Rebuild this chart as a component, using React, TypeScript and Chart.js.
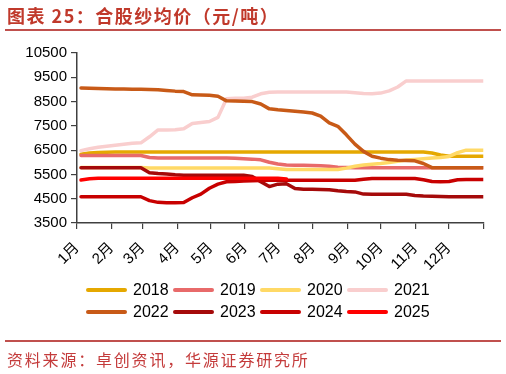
import React, { useEffect, useRef } from 'react';
import { Chart, registerables } from 'chart.js';

Chart.register(...registerables);

// ---------- data ----------
const years = ['2018', '2019', '2020', '2021', '2022', '2023', '2024', '2025'];
const seriesColors = ['#E5A800', '#E86A6A', '#FFD966', '#F9CECE', '#C85A17', '#A50A0A', '#C80000', '#FF0000'];
const monthLabels = ['1月', '2月', '3月', '4月', '5月', '6月', '7月', '8月', '9月', '10月', '11月', '12月'];
const monthStartDays = [0, 31, 59, 90, 120, 151, 181, 212, 243, 273, 304, 334, 365];
const yMin = 3500;
const yMax = 10500;
const yStep = 1000;
// weekly observations: day-of-year of first point and spacing
const firstDay = 3.6;
const stepDays = 7.69;

const s2018 = [6330, 6380, 6400, 6410,
  6420, 6420, 6420, 6420, 6420, 6420, 6420, 6420, 6420, 6420, 6420, 6420, 6420, 6420, 6420, 6420,
  6420, 6420, 6420, 6420, 6420, 6420, 6420, 6420, 6420, 6420, 6420, 6420, 6420, 6420, 6420, 6420,
  6420, 6420, 6420, 6420, 6420,
  6380, 6300, 6250, 6250, 6250, 6250, 6250];
const s2019 = [6280, 6280, 6280, 6280, 6280, 6280, 6280, 6280,
  6200, 6180, 6180, 6180, 6180, 6180, 6180, 6180, 6180, 6180,
  6170, 6150, 6130, 6100, 6000, 5930, 5890, 5880, 5880, 5870, 5860, 5840, 5800, 5790,
  5780, 5780, 5780, 5780, 5780, 5780, 5780, 5780, 5780, 5780, 5780, 5780, 5780, 5780, 5780, 5780];
const s2020 = [5790, 5790, 5790, 5790, 5790, 5790, 5790, 5790,
  5760, 5760, 5760, 5760, 5760, 5760, 5760, 5760, 5760, 5760, 5760, 5760, 5760, 5760, 5760,
  5730, 5700, 5700, 5700, 5700, 5700, 5700, 5700,
  5760, 5840, 5890, 5920, 5950, 5990, 6040, 6090, 6120, 6150, 6180, 6200, 6240, 6400, 6500, 6500, 6500];
const s2021 = [6480, 6560, 6620, 6660, 6700, 6740, 6780, 6800, 7050, 7330, 7330, 7340, 7380, 7600, 7640,
  7680, 7850, 8620, 8640, 8640, 8680, 8820, 8880,
  8890, 8890, 8890, 8890, 8890, 8890, 8890, 8890, 8890,
  8860, 8830, 8820, 8850, 8940, 9100, 9350,
  9350, 9350, 9350, 9350, 9350, 9350, 9350, 9350, 9350];
const s2022 = [9060, 9050, 9040, 9030, 9020, 9020, 9010, 9010, 9000, 8990, 8960, 8930, 8910, 8780, 8770,
  8760, 8720, 8530, 8520, 8510, 8500, 8400, 8200, 8160, 8130, 8100, 8070, 8030, 7900, 7620, 7480,
  7130, 6750, 6450, 6250, 6170, 6110, 6080, 6070, 6060, 5950, 5780,
  5780, 5780, 5780, 5780, 5780, 5780];
const s2023 = [5780, 5780, 5780, 5780, 5780, 5780, 5780, 5780,
  5570, 5540, 5520, 5490,
  5470, 5470, 5470, 5470, 5470, 5470, 5470, 5470,
  5420, 5200, 5000, 5100, 5120, 4920, 4890, 4890, 4880, 4870, 4830, 4800, 4780, 4690,
  4680, 4680, 4680, 4680, 4680,
  4630, 4610, 4600, 4590,
  4580, 4580, 4580, 4580, 4580];
const s2024 = [4580, 4580, 4580, 4580, 4580, 4580, 4580, 4580,
  4420, 4350, 4330, 4330, 4340, 4540, 4690, 4930, 5100, 5200, 5210, 5230, 5240, 5250,
  5260, 5260, 5260, 5260, 5260, 5260, 5260, 5260, 5260, 5260, 5260,
  5300,
  5330, 5330, 5330, 5330, 5330, 5330,
  5280, 5210, 5200, 5210, 5280,
  5290, 5290, 5290];
const s2025 = [5270, 5320, 5340, 5340, 5340, 5340, 5340, 5340, 5340, 5340, 5340, 5340, 5340, 5340,
  5340, 5340, 5340, 5340, 5340, 5340, 5340, 5340, 5340, 5340, 5310];

const allSeries = [s2018, s2019, s2020, s2021, s2022, s2023, s2024, s2025];

const tickFont = '"Liberation Sans", Arial, "Noto Sans CJK SC", sans-serif';
const axisColor = '#404040';

const legendPlugin = {
  id: 'rowLegend',
  afterDraw(chart: any) {
    const ctx = chart.ctx as CanvasRenderingContext2D;
    const colX = [86, 173, 260, 347];
    const rowY = [290, 312];
    ctx.save();
    ctx.font = '16px ' + tickFont;
    ctx.textBaseline = 'middle';
    ctx.textAlign = 'left';
    chart.data.datasets.forEach((ds: any, i: number) => {
      const x = colX[i % 4];
      const y = rowY[Math.floor(i / 4)];
      ctx.strokeStyle = ds.borderColor;
      ctx.lineWidth = 4;
      ctx.lineCap = 'round';
      ctx.beginPath();
      ctx.moveTo(x + 2, y);
      ctx.lineTo(x + 39, y);
      ctx.stroke();
      ctx.fillStyle = '#000';
      ctx.fillText(ds.label, x + 47, y + 1);
    });
    ctx.restore();
  },
};

export default function App() {
  const ref = useRef<HTMLCanvasElement | null>(null);

  useEffect(() => {
    if (!ref.current) return;
    const datasets = years.map((y, i) => ({
      label: y,
      data: allSeries[i].map((v, k) => ({ x: firstDay + k * stepDays, y: v })),
      borderColor: seriesColors[i],
      backgroundColor: seriesColors[i],
      borderWidth: 3.5,
      pointRadius: 0,
      tension: 0,
      borderJoinStyle: 'round' as const,
      borderCapStyle: 'round' as const,
      order: years.length - i,
    }));
    const chart = new Chart(ref.current, {
      type: 'line',
      data: { datasets },
      options: {
        responsive: false,
        animation: false,
        events: [],
        layout: { padding: { left: 0, right: 17, top: 53, bottom: 101 } },
        plugins: {
          legend: { display: false },
          tooltip: { enabled: false },
        },
        scales: {
          x: {
            type: 'linear',
            min: 0,
            max: 365,
            afterBuildTicks: (axis: any) => {
              axis.ticks = monthStartDays.map((v) => ({ value: v }));
            },
            afterFit: (s: any) => {
              s.height = 50;
            },
            ticks: {
              autoSkip: false,
              minRotation: 45,
              maxRotation: 45,
              padding: 10,
              color: '#000',
              font: { family: tickFont, size: 15 },
              callback: (v: any) => {
                const idx = monthStartDays.indexOf(Number(v));
                return idx >= 0 && idx < monthLabels.length ? monthLabels[idx] : '';
              },
            },
            grid: { drawOnChartArea: false, drawTicks: true, tickLength: 6, color: axisColor, lineWidth: 1.2 },
            border: { display: true, color: axisColor, width: 1.5 },
          },
          y: {
            min: yMin,
            max: yMax,
            afterFit: (s: any) => {
              s.width = 77;
            },
            ticks: {
              stepSize: yStep,
              padding: 4,
              color: '#000',
              font: { family: tickFont, size: 15 },
              callback: (v: any) => String(v),
            },
            grid: { drawOnChartArea: false, drawTicks: true, tickLength: 6, color: axisColor, lineWidth: 1.2 },
            border: { display: true, color: axisColor, width: 1.5 },
          },
        },
      },
      plugins: [legendPlugin],
    });
    return () => chart.destroy();
  }, []);

  return (
    <div style={{ position: 'absolute', left: 0, top: 0, width: 506, height: 374, background: '#fff', overflow: 'hidden' }}>
      <canvas ref={ref} width={506} height={374} style={{ position: 'absolute', left: 0, top: 0, display: 'block' }} />
      <div
        style={{
          position: 'absolute', left: 7, top: 3, fontFamily: '"Noto Sans CJK SC", sans-serif', fontWeight: 700,
          fontSize: 18, color: '#C0392B', whiteSpace: 'nowrap', letterSpacing: 1.5, lineHeight: '24px',
        }}
      >
        图表 25：合股纱均价（元/吨）
      </div>
      <div style={{ position: 'absolute', left: 5, top: 29, width: 496, height: 2, background: '#C0504D' }} />
      <div style={{ position: 'absolute', left: 5, top: 340, width: 496, height: 1.5, background: '#C0504D' }} />
      <div
        style={{
          position: 'absolute', left: 7, top: 348, fontFamily: '"Noto Sans CJK SC", sans-serif', fontSize: 16,
          color: '#C43B3B', whiteSpace: 'nowrap', letterSpacing: 1.8, lineHeight: '22px',
        }}
      >
        资料来源：卓创资讯，华源证券研究所
      </div>
    </div>
  );
}
